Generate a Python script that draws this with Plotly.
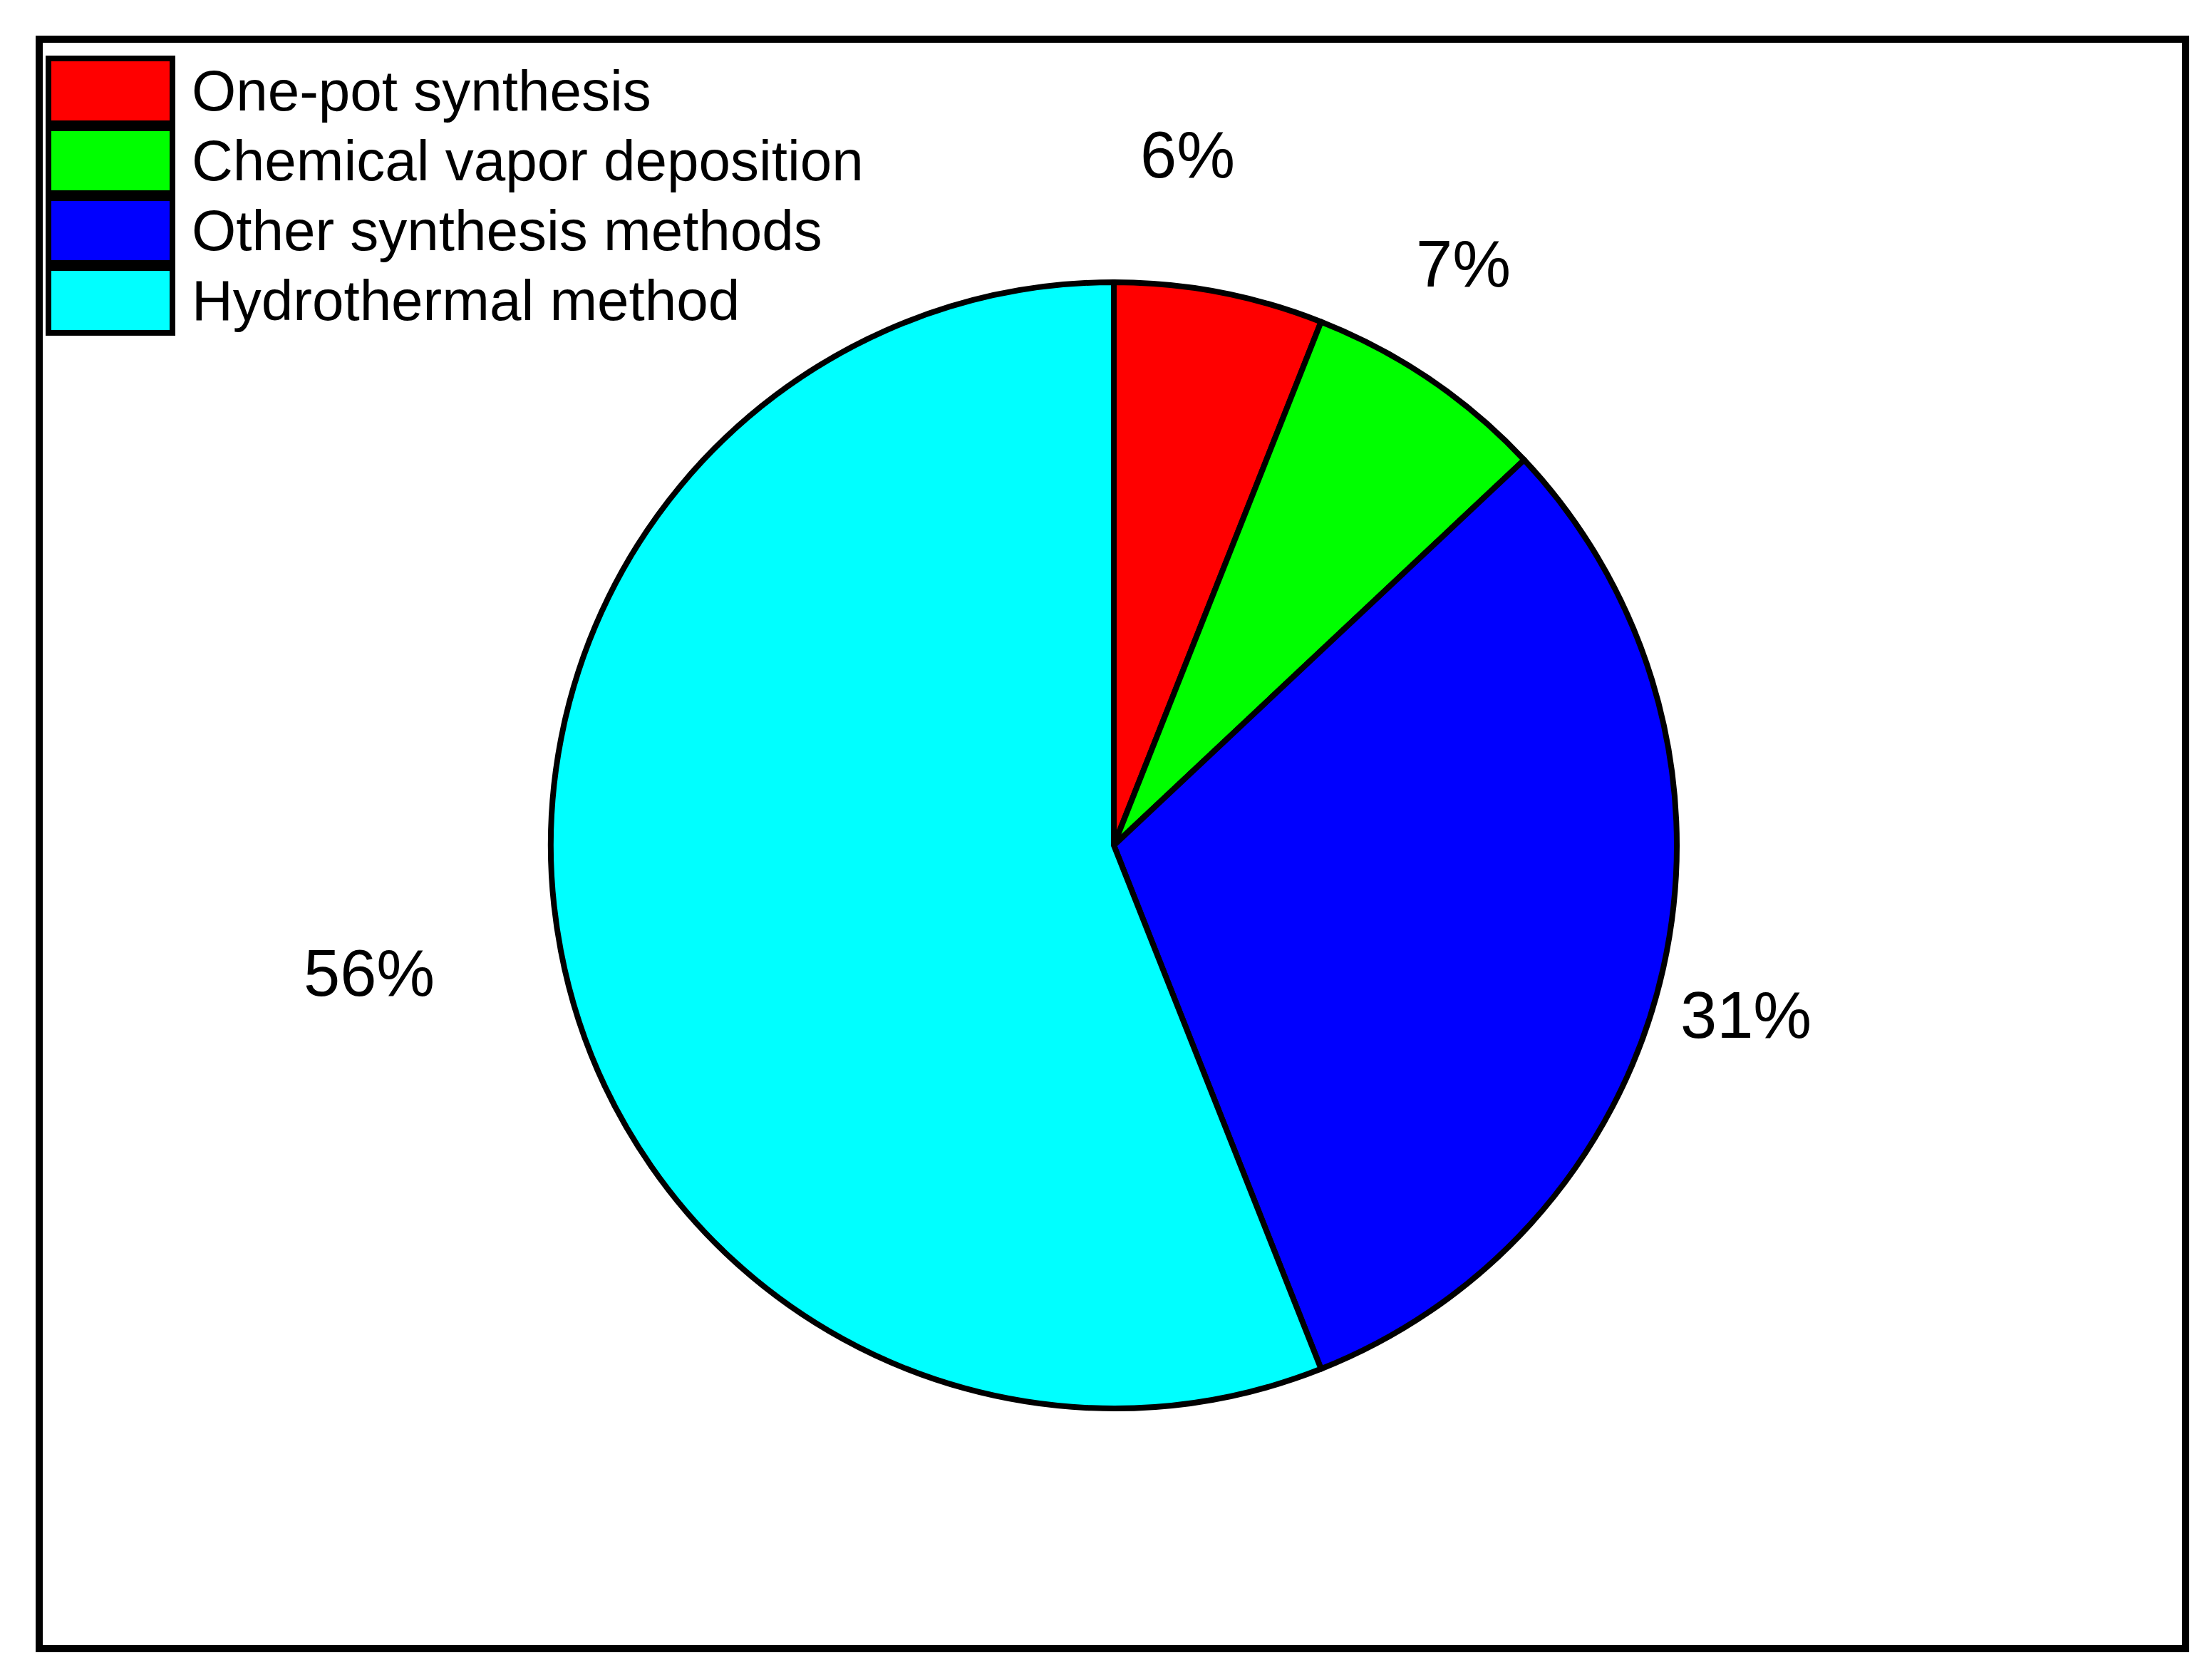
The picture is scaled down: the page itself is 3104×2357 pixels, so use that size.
import math
import plotly.graph_objects as go

# data
methods = ["One-pot synthesis", "Chemical vapor deposition",
           "Other synthesis methods", "Hydrothermal method"]
shares = [6, 7, 31, 56]
colors = ["#ff0000", "#00ff00", "#0000ff", "#00ffff"]

W, H = 3104, 2357
cx, cy, R = 1555, 1178, 790  # pie centre / radius in px

# label placement (radius factor, angle offset in deg)
label_pos = [(1.234, -4.7), (1.205, -3.2), (1.163, 2.4), (1.342, 1.1)]

fig = go.Figure(go.Pie(
    labels=methods,
    values=shares,
    sort=False,
    direction="clockwise",
    rotation=0,
    marker=dict(colors=colors, line=dict(color="black", width=8)),
    textinfo="none",
    hoverinfo="label+percent",
    showlegend=False,
    domain=dict(x=[(cx - R) / W, (cx + R) / W],
                y=[(H - cy - R) / H, (H - cy + R) / H]),
))

font = "Liberation Sans, Arial, sans-serif"
total = sum(shares)
cum = 0
anns = []
for v, (rf, off) in zip(shares, label_pos):
    mid = (cum + v / 2) / total * 360 + off
    cum += v
    px = cx + rf * R * math.sin(math.radians(mid))
    py = cy - rf * R * math.cos(math.radians(mid))
    anns.append(dict(x=px / W, y=1 - py / H, xref="paper", yref="paper",
                     text=f"{v}%", showarrow=False,
                     font=dict(size=92, color="black", family=font),
                     xanchor="center", yanchor="middle"))

# legend drawn by hand so swatches match the size of the original
shapes = [dict(type="rect", xref="paper", yref="paper",
               x0=47 / W, x1=3059 / W, y0=1 - 2305 / H, y1=1 - 47 / H,
               line=dict(color="black", width=10), fillcolor="rgba(0,0,0,0)")]
for i, (name, c) in enumerate(zip(methods, colors)):
    top = 74 + 98 * i
    bot = top + 91
    shapes.append(dict(type="rect", xref="paper", yref="paper",
                       x0=60 / W, x1=234 / W, y0=1 - bot / H, y1=1 - top / H,
                       fillcolor=c, line=dict(color="black", width=8)))
    anns.append(dict(x=259 / W, y=1 - (top + bot) / 2 / H, xref="paper", yref="paper",
                     text=name, showarrow=False, xanchor="left", yanchor="middle",
                     font=dict(size=80, color="black", family=font)))

fig.update_layout(
    width=W, height=H, autosize=False,
    margin=dict(l=0, r=0, t=0, b=0),
    paper_bgcolor="white", plot_bgcolor="white",
    annotations=anns, shapes=shapes,
)

fig.write_html("out.html")
